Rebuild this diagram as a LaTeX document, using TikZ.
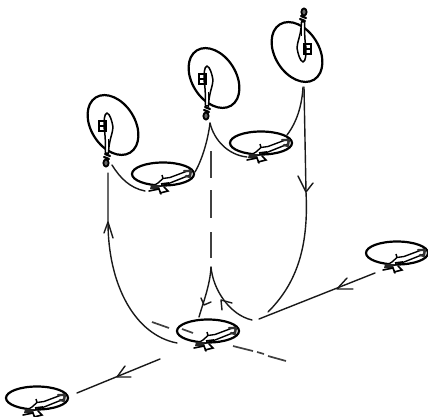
\documentclass[tikz,border=0pt]{standalone}
\tikzset{
  heavy/.style={line width=2.2pt,line join=round,line cap=round},
  flow/.style={line width=1.4pt,line cap=round,line join=round,black!90},
  dashseg/.style={line width=1.7pt,black!75},
  flatheli/.pic={
    \draw[heavy] (0,0) ellipse [x radius=31,y radius=11.5];
    \draw[line width=1.4pt,line join=round,fill=white] (27,-4) -- (7,3.5) -- (0,4.5) -- (-5,9) -- (-10,12) -- (-4,12.5) -- (7,9) -- (27,1) -- cycle;
    \draw[line width=1.5pt] (0,4.5) -- (-1,1);
    \fill[black!85] (-12,11) -- (-3,11) -- (-4,15) -- (-13,15) -- cycle;
    \draw[line width=1.6pt,line cap=round] (-14,17) -- (-4,15) -- (-2,20) (1,13) -- (5,17) -- (-3,19);
    \draw[heavy,black!80] (21,-3) -- (28,-3) -- (27,3) -- (23,2);
    \draw[line width=1.8pt] (-2,10) -- (6,9);
  },
  upheli/.pic={
    \draw[line width=1.5pt,line join=round,fill=white] (0,0) .. controls (-3,1) and (-3,8) .. (-3,14) .. controls (-2,20) and (-1.5,26) .. (-1.5,40) -- (1.5,40) .. controls (2,26) and (6,20) .. (6,14) .. controls (5,8) and (3,1) .. (0,0) -- cycle;
    \draw[line width=1.4pt] (-8,8) rectangle (-1,18);
    \draw[line width=1.4pt] (-8,13) -- (-1,13);
    \draw[line width=1.4pt] (-1.5,26) -- (-1.5,41) (1.5,26) -- (1.5,41);
    \draw[heavy] (-2,41) -- (3,43) (-3,44) -- (2,46);
    \draw[line width=1.8pt,fill=black!60] (-1,50) ellipse [x radius=2.6,y radius=3.6];
  }
}
\begin{document}
\begin{tikzpicture}[x=1pt,y=-1pt]
\useasboundingbox (0,0) rectangle (428,417);
% rotor discs, vertical
\draw[heavy] (113,125) ellipse [x radius=32.5,y radius=22,rotate=-58];
\draw[heavy] (214,78) ellipse [x radius=32.5,y radius=22,rotate=-58];
\draw[heavy] (297,52) ellipse [x radius=32.5,y radius=22,rotate=-58];
% helicopters in the vertical discs
\pic at (107,113) {upheli};
\pic at (207,66) {upheli};
\pic[rotate=180] at (303,62) {upheli};
% helicopters in flat discs
\pic at (163,174) {flatheli};
\pic at (261,143) {flatheli};
\pic at (397,253) {flatheli};
\pic at (37,398) {flatheli};
\pic at (208,331) {flatheli};
% connectors between stages
\draw[flow] (112,165) .. controls (120,178) and (130,188) .. (145,191);
\draw[flow] (210,123) .. controls (208,140) and (202,160) .. (195,172);
\draw[flow] (210,123) .. controls (214,140) and (228,155) .. (247,157);
\draw[flow] (303,87) .. controls (302,105) and (297,122) .. (287,135);
% long paths
\draw[flow] (108,173) -- (108,222) .. controls (108,285) and (135,335) .. (177,343);
\draw[flow] (298,176) -- (306,192) -- (313,183);
\draw[flow] (304,87) -- (306,192) .. controls (309,250) and (295,285) .. (268,312);
\draw[flow] (104,233) -- (108,222) -- (113,238);
% central dashes
\draw[dashseg] (211,151) -- (211,178) (211,190) -- (211,218) (211,232) -- (211,258);
\draw[flow] (211,267) .. controls (210,285) and (204,300) .. (199,317);
\draw[flow] (201,298) -- (204,305) -- (211,302);
\draw[flow] (211,267) .. controls (213,290) and (230,315) .. (252,320);
\draw[flow] (222,310) -- (221,300) -- (232,303);
% flight line
\draw[flow] (375,273) -- (259,319);
\draw[flow] (347,278) -- (337,289) -- (353,289);
\draw[flow] (160,359) -- (77,393);
\draw[flow] (125,366) -- (117,377) -- (131,377);
% ground dashes
\draw[dashseg] (152,322) -- (169,328) (182,329) -- (193,333) (233,346) -- (253,351) (257,352) -- (264,354) (268,356) -- (286,361);
\end{tikzpicture}
\end{document}
